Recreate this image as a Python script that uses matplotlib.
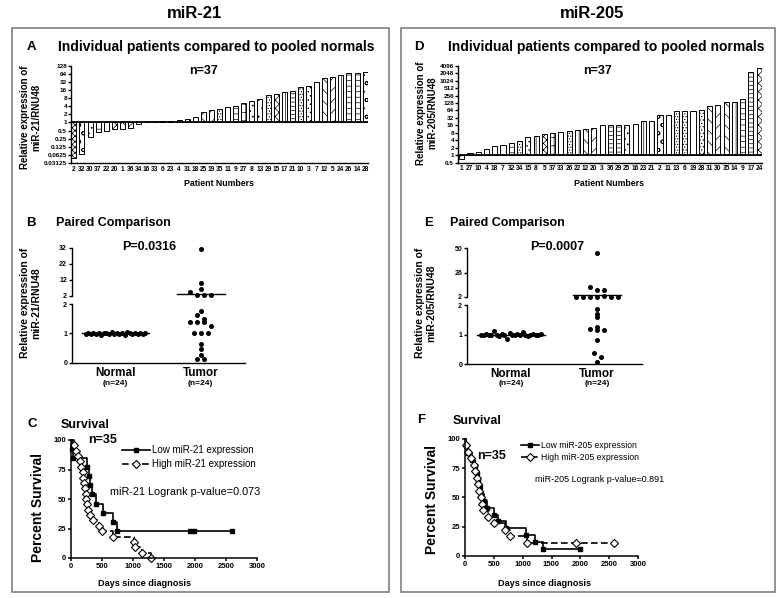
import numpy as np
import matplotlib
matplotlib.use("Agg")
import matplotlib.pyplot as plt
from matplotlib.patches import Rectangle
from matplotlib.lines import Line2D
import matplotlib.transforms as mtrans

plt.rcParams['font.family'] = ['Liberation Sans', 'DejaVu Sans']
plt.rcParams['hatch.linewidth'] = 0.5

# ---- data ----
# A: miR-21, individual patients vs pooled normals (sorted)
a_patients = ['2', '32', '30', '37', '22', '20', '1', '36', '34', '16', '33', '6', '23', '4', '31', '18', '25',
              '19', '35', '11', '9', '27', '8', '13', '29', '15', '17', '21', '10', '3', '7', '12', '5', '24',
              '26', '14', '28']
a_values = [0.047, 0.069, 0.29, 0.46, 0.5, 0.57, 0.58, 0.62, 0.9, 1.05, 1.07, 1.1, 1.1, 1.2, 1.3, 1.6, 2.4,
            2.9, 3.1, 3.7, 4.0, 5.2, 6.2, 7.7, 10.6, 11.5, 13.0, 14.4, 20.0, 22.7, 31.0, 46.0, 50.0, 58.0,
            67.0, 67.0, 77.0]

# D: miR-205
d_patients = ['1', '27', '10', '4', '18', '7', '32', '34', '15', '8', '5', '37', '33', '26', '22', '12', '20',
              '3', '36', '29', '25', '16', '23', '21', '2', '11', '13', '6', '19', '28', '31', '30', '35', '14',
              '9', '17', '24']
d_values = [0.69, 1.24, 1.4, 1.75, 2.3, 2.7, 3.1, 3.8, 5.2, 5.8, 7.5, 8.2, 8.7, 9.9, 10.8, 11.5, 12.2,
            16.0, 16.3, 16.3, 16.0, 18.0, 25.0, 25.0, 41.0, 44.0, 60.0, 60.0, 61.0, 65.0, 100.0, 105.0, 137.0,
            145.0, 185.0, 2200.0, 3300.0]

# B / E: paired comparison
b_normal = [0.97, 1.0, 0.98, 1.02, 0.99, 1.01, 0.96, 1.03, 1.0, 0.98, 1.05, 0.97, 1.0, 0.99, 1.02, 0.95,
            1.04, 1.0, 0.98, 1.01, 0.97, 1.03, 0.99, 1.0]
b_tumor = [31.0, 10.2, 6.4, 4.1, 2.2, 2.2, 2.2, 1.77, 1.63, 1.51, 1.39, 1.39, 1.38, 1.27, 1.01, 1.01, 1.01,
           0.64, 0.47, 0.26, 0.11, 0.11]
b_normal_line = 1.0
b_tumor_line = 2.8

e_normal = [1.0, 0.98, 1.02, 1.0, 0.99, 1.12, 1.01, 0.97, 1.03, 1.0, 0.85, 1.05, 0.98, 1.0, 1.02, 0.99,
            1.1, 1.0, 0.97, 1.01, 1.03, 1.0, 0.98, 1.02]
e_tumor = [45.7, 11.3, 8.6, 8.6, 2.1, 2.15, 2.05, 2.1, 2.2, 2.1, 2.05, 1.86, 1.7, 1.62, 1.26, 1.2, 1.17,
           1.17, 0.83, 0.37, 0.26, 0.07]
e_normal_line = 1.0
e_tumor_line = 4.0

# C / F: survival (days of death, days censored)
c_low_death = [15, 40, 253, 296, 300, 334, 404, 522, 673, 748]
c_low_cens = [1920, 1980, 2590]
c_high_death = [48, 80, 118, 145, 167, 188, 199, 210, 226, 237, 248, 264, 280, 307, 361, 458, 496, 673,
                1018, 1034, 1142, 1288]
c_high_cens = []

f_low_death = [10, 55, 120, 165, 200, 230, 255, 285, 330, 380, 509, 579, 706, 1059, 1215, 1360]
f_low_cens = [2000]
f_high_death = [15, 60, 110, 150, 180, 205, 225, 245, 270, 300, 320, 400, 500, 700, 780, 1080]
f_high_cens = [1920, 2590]

a_hatch = ['xxxxxx', 'oo', '...', '++', '', 'xxxx', 'xxx', 'xxx', '', '', '', '', '', '', '....', '',
           'xx', '///', '......', '|||', '---', '++', '...', '..', '......', 'xxxx', '||||', '----',
           '......', '....', '||', '\\\\\\', '///', '|', '---', '---', 'oo']
d_hatch = ['xxxx', '', '', '', '', '|', '---', '......', '....', '|||', 'xxxxx', '++', '|||', '......',
           '||', '\\\\\\', '///', '', '----', '----', '...', '', '||||', '||', 'oo', '', '......',
           '......', '', '.....', '\\\\\\', '///', '\\\\\\', '|||', '---', '----', 'xxxx']

W, H = 783, 598
fig = plt.figure(figsize=(W / 100, H / 100), dpi=100)


def ax_px(x0, y0, x1, y1):
    return fig.add_axes([x0 / W, 1 - y1 / H, (x1 - x0) / W, (y1 - y0) / H])


def ftext(x, y, s, **kw):
    kw.setdefault('ha', 'center')
    kw.setdefault('va', 'center')
    fig.text(x / W, 1 - y / H, s, **kw)


def style(ax, lw=1.0):
    for sp in ['top', 'right']:
        ax.spines[sp].set_visible(False)
    for sp in ['left', 'bottom']:
        ax.spines[sp].set_linewidth(lw)
    ax.tick_params(width=lw, length=2.5, pad=1)


# boxes and column titles
for x0, x1 in [(12, 389), (401, 775)]:
    fig.patches.append(Rectangle((x0 / W, 1 - 592 / H), (x1 - x0) / W, (592 - 28) / H,
                                 transform=fig.transFigure, fill=False, ec='#808080', lw=1.2))
ftext(194, 13, 'miR-21', fontsize=12, fontweight='bold')
ftext(592, 13, 'miR-205', fontsize=12, fontweight='bold')


def bar_panel(box, vals, pats, hatches, ylo, yhi, ticklabels, xlim):
    ax = ax_px(*box)
    x = np.arange(len(vals))
    v = np.array(vals)
    bars = ax.bar(x, v - 1, bottom=1, width=0.62, color='white', edgecolor='black', linewidth=0.7)
    for b, h in zip(bars, hatches):
        b.set_hatch(h)
    ax.set_yscale('log', base=2)
    ax.set_ylim(2.0 ** ylo, 2.0 ** yhi)
    ax.set_yticks([2.0 ** k for k in range(ylo, yhi + 1)])
    ax.set_yticklabels(ticklabels, fontsize=4.6, fontweight='bold')
    ax.minorticks_off()
    ax.axhline(1, color='black', lw=1.3, zorder=3)
    ax.set_xlim(*xlim)
    ax.set_xticks(x)
    ax.set_xticklabels(pats, fontsize=4.8, fontweight='bold')
    style(ax, 1.0)
    ax.tick_params(axis='x', length=0, pad=2)
    ax.tick_params(axis='y', length=2, pad=0.8)
    return ax


# ---- A ----
ftext(31, 47, 'A', fontsize=9.5, fontweight='bold')
ftext(216, 47, 'Individual patients compared to pooled normals', fontsize=10, fontweight='bold')
bar_panel((71, 65.7, 368, 163), a_values, a_patients, a_hatch, -5, 7,
          ['0.03125', '0.0625', '0.125', '0.25', '0.5', '1', '2', '4', '8', '16', '32', '64', '128'],
          (-0.35, 36.35))
ftext(203, 71, 'n=37', fontsize=9, fontweight='bold')
ftext(219, 183, 'Patient Numbers', fontsize=6.3, fontweight='bold')
ftext(31, 117, 'Relative expression of\nmiR-21/RNU48', fontsize=7, fontweight='bold', rotation=90,
      linespacing=1.15)

# ---- D ----
ftext(419, 47, 'D', fontsize=9.5, fontweight='bold')
ftext(606, 47, 'Individual patients compared to pooled normals', fontsize=10, fontweight='bold')
bar_panel((458, 65.7, 762, 162.7), d_values, d_patients, d_hatch, -1, 12,
          ['0.5', '1', '2', '4', '8', '16', '32', '64', '128', '256', '512', '1024', '2048', '4096'],
          (-0.45, 36.35))
ftext(598, 71, 'n=37', fontsize=9, fontweight='bold')
ftext(609, 183, 'Patient Numbers', fontsize=6.3, fontweight='bold')
ftext(427, 113, 'Relative expression of\nmiR-205/RNU48', fontsize=7, fontweight='bold', rotation=90,
      linespacing=1.15)


def swarm(ax_hi, ax_lo, vals, bin_px, step_px, center):
    # Prism-like column scatter: points in the same height band are spread side by side
    base = ax_lo.transData.transform((0, 0))[1]
    keys = []
    for v in vals:
        a = ax_hi if v > 2 else ax_lo
        keys.append(int(np.floor((a.transData.transform((0, v))[1] - base) / bin_px)))
    offs = np.zeros(len(vals))
    for k in set(keys):
        idx = [i for i in range(len(vals)) if keys[i] == k]
        n = len(idx)
        for j, i in enumerate(idx):
            offs[i] = (j - (n - 1) / 2) * step_px
    unit = ax_lo.transData.transform((1, 0))[0] - ax_lo.transData.transform((0, 0))[0]
    return center + offs / unit


def paired_panel(x0, x1, hi_box, lo_box, hi_lim, hi_ticks, normal, tumor, nline, tline, ptxt, pxy):
    ax_hi = ax_px(x0, hi_box[0], x1, hi_box[1])
    ax_lo = ax_px(x0, lo_box[0], x1, lo_box[1])
    for ax in (ax_hi, ax_lo):
        style(ax, 1.0)
        ax.set_xlim(-0.51, 1.52)
        ax.tick_params(axis='y', labelsize=5, length=2.5)
    ax_hi.spines['bottom'].set_visible(False)
    ax_hi.set_xticks([])
    ax_hi.set_ylim(*hi_lim)
    ax_hi.set_yticks(hi_ticks)
    ax_hi.set_yticklabels([str(t) for t in hi_ticks], fontweight='bold')
    ax_lo.set_ylim(0, 2)
    ax_lo.set_yticks([0, 1, 2])
    ax_lo.set_yticklabels(['0', '1', '2'], fontweight='bold')
    ax_lo.set_xticks([0, 1])
    ax_lo.set_xticklabels(['Normal', 'Tumor'], fontsize=8.5, fontweight='bold')
    ax_lo.tick_params(axis='x', length=0, pad=3)
    tr = mtrans.blended_transform_factory(ax_lo.transData, fig.transFigure)
    for xc in (0, 1):
        ax_lo.text(xc, 1 - 383.5 / H, '(n=24)', transform=tr, ha='center', va='center', fontsize=6,
                   fontweight='bold')
    for vals, xc, bin_px, step in ((normal, 0, 12, 2.6), (tumor, 1, 6, 7.0)):
        xs = swarm(ax_hi, ax_lo, vals, bin_px, step, xc)
        v = np.array(vals)
        hi = v > 2
        ax_hi.scatter(xs[hi], v[hi], s=13, color='black', clip_on=False, zorder=4, lw=0)
        ax_lo.scatter(xs[~hi], v[~hi], s=13, color='black', clip_on=False, zorder=4, lw=0)
    for val, xc, hw in ((nline, 0, 0.39), (tline, 1, 0.28)):
        a = ax_hi if val > 2 else ax_lo
        a.plot([xc - hw, xc + hw], [val, val], color='black', lw=1.0, clip_on=False, zorder=3)
    ftext(pxy[0], pxy[1], ptxt, fontsize=9, fontweight='bold')


# ---- B ----
ftext(31, 223, 'B', fontsize=9.5, fontweight='bold')
ftext(113, 223, 'Paired Comparison', fontsize=9, fontweight='bold')
paired_panel(72, 245, (247.7, 295.7), (304.3, 362.7), (2, 32), [2, 12, 22, 32], b_normal, b_tumor,
             b_normal_line, b_tumor_line, 'P=0.0316', (149, 247))
ftext(31, 303, 'Relative expression of\nmiR-21/RNU48', fontsize=7.5, fontweight='bold', rotation=90,
      linespacing=1.15)

# ---- E ----
ftext(429, 223, 'E', fontsize=9.5, fontweight='bold')
ftext(507, 223, 'Paired Comparison', fontsize=9, fontweight='bold')
paired_panel(467, 642, (248.3, 296.7), (305.3, 364.3), (2, 50), [2, 26, 50], e_normal, e_tumor,
             e_normal_line, e_tumor_line, 'P=0.0007', (557, 247))
ftext(426, 303, 'Relative expression of\nmiR-205/RNU48', fontsize=7.5, fontweight='bold', rotation=90,
      linespacing=1.15)


def km_steps(deaths, cens):
    ev = sorted([(t, 1) for t in deaths] + [(t, 0) for t in cens])
    n = len(ev)
    s = 100.0
    xs, ys, ex, ey, cx, cy = [0], [100.0], [], [], [], []
    for t, d in ev:
        if d:
            ns = s * (n - 1) / n
            xs += [t, t]
            ys += [s, ns]
            s = ns
            ex.append(t)
            ey.append(s)
        else:
            cx.append(t)
            cy.append(s)
        n -= 1
    if ev[-1][0] > xs[-1]:
        xs.append(ev[-1][0])
        ys.append(s)
    return xs, ys, ex, ey, cx, cy


def surv_panel(box, low, high, labels, leg_xy, leg_fs, handlelen, spacing):
    ax = ax_px(*box)
    style(ax, 1.1)
    ax.set_xlim(0, 3000)
    ax.set_ylim(0, 100)
    ax.set_xticks(range(0, 3001, 500))
    ax.set_yticks([0, 25, 50, 75, 100])
    ax.tick_params(labelsize=5.5, length=2.5)
    for t in ax.get_xticklabels() + ax.get_yticklabels():
        t.set_fontweight('bold')
    xs, ys, ex, ey, cx, cy = km_steps(*low)
    ax.plot(xs, ys, color='black', lw=1.2, clip_on=False)
    ax.plot(ex + cx, ey + cy, 's', color='black', ms=2.8, clip_on=False)
    xs, ys, ex, ey, cx, cy = km_steps(*high)
    ax.plot(xs, ys, color='black', lw=1.2, dashes=(4, 2), clip_on=False)
    ax.plot(ex + cx, ey + cy, 'D', mfc='white', mec='black', mew=0.8, ms=3.8, clip_on=False)
    h1 = Line2D([], [], color='black', lw=1.2, marker='s', ms=2.8)
    h2 = Line2D([], [], color='black', lw=1.2, dashes=(4, 2), marker='D', mfc='white', mec='black',
                mew=0.8, ms=3.8)
    ax.legend([h1, h2], labels, loc='upper left', bbox_to_anchor=(leg_xy[0] / W, 1 - leg_xy[1] / H),
              bbox_transform=fig.transFigure, frameon=False, fontsize=leg_fs, handlelength=handlelen,
              handletextpad=0.2, borderpad=0, borderaxespad=0, labelspacing=spacing, numpoints=1)
    return ax


# ---- C ----
ftext(32, 424, 'C', fontsize=9.5, fontweight='bold')
ftext(85, 425, 'Survival', fontsize=9, fontweight='bold')
surv_panel((71, 440, 257, 558), (c_low_death, c_low_cens), (c_high_death, c_high_cens),
           ['Low miR-21 expression', 'High miR-21 expression'], (122, 445), 7, 2.9, 0.45)
ftext(103, 440, 'n=35', fontsize=9, fontweight='bold')
ftext(110, 492, 'miR-21 Logrank p-value=0.073', fontsize=7.8, ha='left')
ftext(144, 583, 'Days since diagnosis', fontsize=6.6, fontweight='bold')
ftext(38, 507, 'Percent Survival', fontsize=10, fontweight='bold', rotation=90)

# ---- F ----
ftext(421, 420, 'F', fontsize=9.5, fontweight='bold')
ftext(477, 421, 'Survival', fontsize=9, fontweight='bold')
surv_panel((465, 439, 638, 555.7), (f_low_death, f_low_cens), (f_high_death, f_high_cens),
           ['Low miR-205 expression', 'High miR-205 expression'], (521, 441.5), 6.2, 2.1, 0.28)
ftext(492, 456, 'n=35', fontsize=9, fontweight='bold')
ftext(535, 480, 'miR-205 Logrank p-value=0.891', fontsize=6.5, ha='left')
ftext(544, 583, 'Days since diagnosis', fontsize=6.6, fontweight='bold')
ftext(432, 500, 'Percent Survival', fontsize=10, fontweight='bold', rotation=90)

fig.savefig('out.png', dpi=100)
